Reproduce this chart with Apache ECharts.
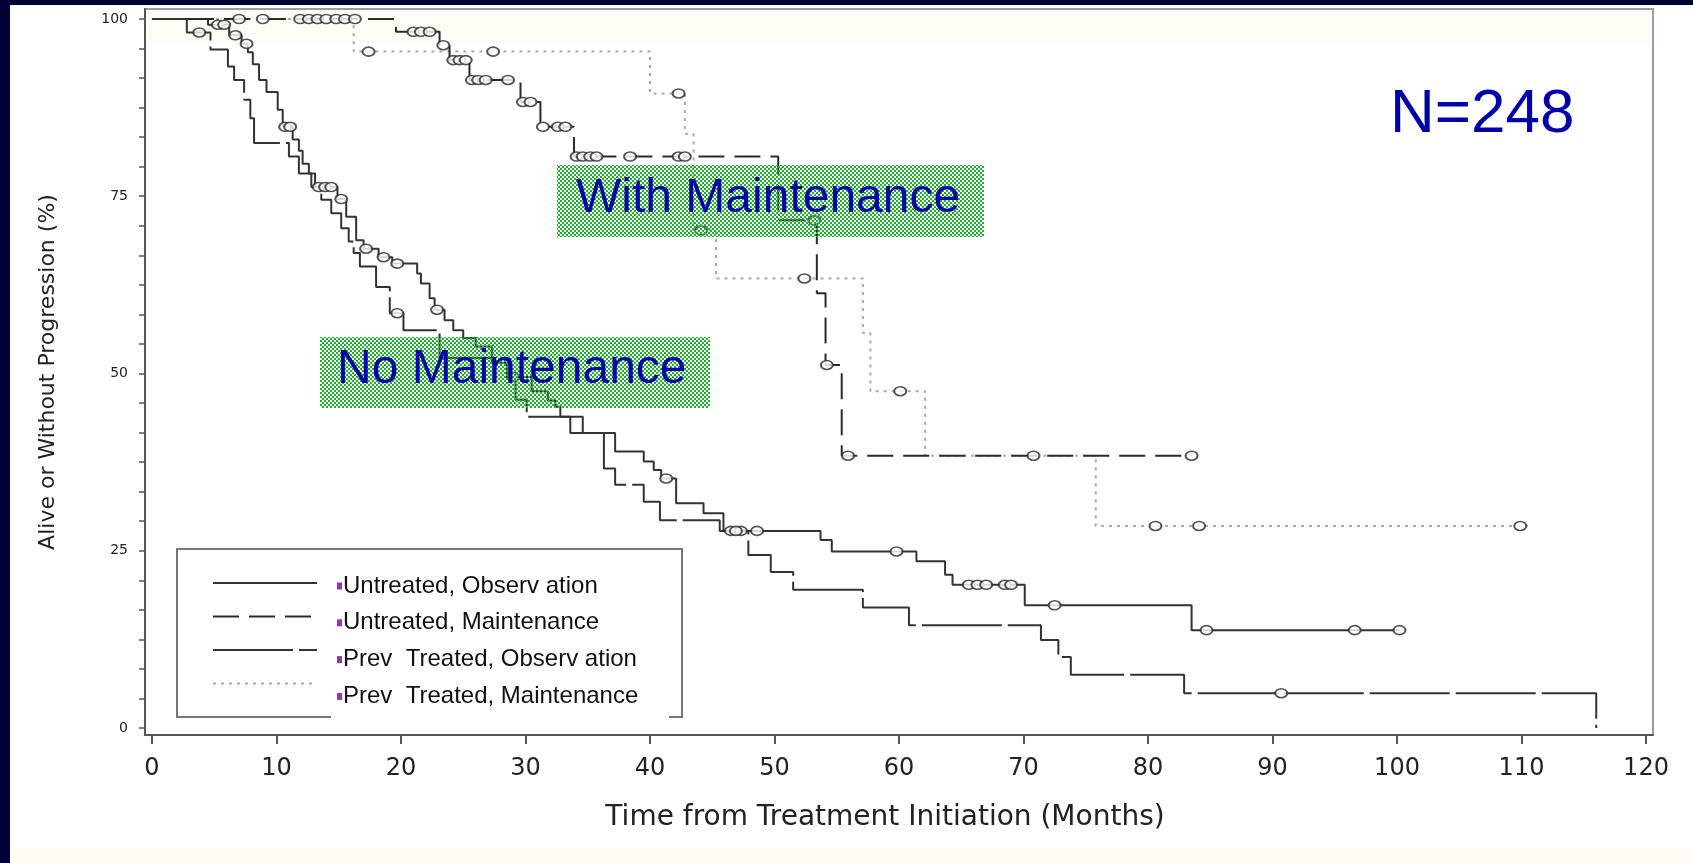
<!DOCTYPE html>
<html>
<head>
<meta charset="utf-8">
<script src="https://cdn.jsdelivr.net/npm/echarts@6/dist/echarts.min.js"></script>
<style>
  html, body { margin: 0; padding: 0; background: #ffffff; }
  #chart { width: 1693px; height: 863px; }
</style>
</head>
<body>
<div id="chart"></div>
<script>
// Kaplan-Meier steps: [month, % alive without progression] from each event onward
const untreatedObs = [[0,100],[4.5,99.2],[6.2,97.7],[7.2,96.5],[7.7,95.3],[8.1,93.6],[8.6,91.4],[9.2,89.7],
  [10.1,87.2],[10.5,84.8],[11.3,83.0],[11.8,81.4],[12.1,79.6],[12.6,78.2],[13.1,76.3],[14.9,74.6],[15.6,72.1],
  [16.4,68.8],[17.0,67.6],[18.2,66.4],[19.3,65.5],[21.3,64.1],[21.6,62.7],[22.3,60.6],[22.7,59.0],[23.5,57.5],
  [24.2,56.1],[25.0,55.0],[26.0,53.8],[27.3,51.5],[28.5,49.5],[30.5,47.5],[31.8,46.2],[32.4,45.3],[32.8,43.9],
  [34.6,41.6],[37.2,39.0],[39.5,37.6],[40.3,36.4],[40.9,35.2],[42.1,31.7],[44.3,30.3],[45.9,27.8],[53.7,26.5],
  [54.6,24.9],[61.4,23.5],[63.7,21.6],[64.3,20.2],[70.1,17.3],[83.5,13.8],[100.2,13.8]];
const untreatedObsCensored = [5.3,5.8,6.7,7.6,10.7,11.1,13.4,13.9,14.4,15.2,17.2,18.6,19.7,22.9,29.0,41.3,
  46.5,47.3,48.6,59.8,65.6,66.3,67.0,68.5,69.0,72.5,84.7,96.6,100.2];

const untreatedMaint = [[0,100],[19.6,98.2],[23.1,96.3],[23.9,94.2],[25.5,91.4],[29.6,88.3],[31.2,84.8],
  [33.9,80.6],[50.3,71.6],[53.4,61.3],[54.1,51.2],[55.4,38.4],[83.5,38.4]];
const untreatedMaintCensored = [7.0,8.9,11.9,12.6,13.3,14.0,14.8,15.5,16.3,21.0,21.6,22.3,23.4,24.2,24.7,25.2,
  25.7,26.2,26.8,28.6,29.8,30.4,31.4,32.6,33.2,34.1,34.6,35.2,35.7,38.4,42.3,42.8,53.2,54.2,55.9,70.8,83.5];

const prevTreatedObs = [[0,100],[2.8,98.1],[4.7,95.7],[6.1,93.3],[6.6,91.4],[7.4,88.6],[7.9,86.0],[8.2,82.5],
  [11.0,80.6],[11.8,78.2],[12.8,76.3],[13.6,74.5],[14.4,72.6],[15.2,70.5],[15.8,68.6],[16.2,67.0],[16.7,65.1],
  [18.0,62.2],[19.1,58.5],[20.2,56.1],[23.1,52.2],[28.7,49.4],[29.2,46.3],[30.1,43.9],[33.6,41.6],[36.3,36.6],
  [37.2,34.3],[39.5,31.9],[40.8,29.3],[45.6,27.8],[47.9,24.4],[49.7,22.0],[51.5,19.5],[57.1,17.0],[60.8,14.5],
  [71.4,12.4],[72.8,10.0],[73.8,7.5],[82.9,4.9],[116.0,0]];
const prevTreatedObsCensored = [3.8,19.7,46.9,90.7];

const prevTreatedMaint = [[0,100],[16.2,95.4],[40.0,89.5],[42.8,83.8],[43.5,70.2],[45.3,63.4],[57.1,55.7],
  [57.7,47.5],[62.1,38.4],[75.8,28.5],[110.5,28.5]];
const prevTreatedMaintCensored = [17.4,27.4,42.3,44.1,52.4,60.1,80.6,84.1,109.9];

const groupNames = ['Untreated, Observ ation', 'Untreated, Maintenance',
  'Prev  Treated, Observ ation', 'Prev  Treated, Maintenance'];

const xTickValues = [0,10,20,30,40,50,60,70,80,90,100,110,120];
const yLabelValues = [0,25,50,75,100];

// survival value of a step curve at time t
function survivalAt(steps, t) {
  let s = steps[0][1];
  for (const [time, value] of steps) { if (time <= t) s = value; else break; }
  return s;
}
function censorPoints(steps, times) {
  return times.map(t => [t, survivalAt(steps, t)]);
}

// y ticks: major every 25 with five minor ticks in between
const yTickValues = [];
for (let i = 0; i <= 24; i++) yTickValues.push(+(i * 25 / 6).toFixed(4));

// checkerboard fill for the annotation boxes (green cells, clear cells)
function checkerPattern() {
  const c = document.createElement('canvas');
  c.width = 4; c.height = 4;
  const g = c.getContext('2d');
  g.fillStyle = '#1cb02c';
  g.fillRect(0, 0, 2, 2);
  g.fillRect(2, 2, 2, 2);
  return c;
}
const checker = checkerPattern();

const curveColor = '#333333';
const censorStyle = { color: '#ffffff', borderColor: '#2a2a2a', borderWidth: 1.8 };

function stepSeries(name, data, lineStyle, z) {
  return { name, type: 'line', step: 'end', data, symbol: 'none', lineStyle, z,
           itemStyle: { color: lineStyle.color }, emphasis: { disabled: true }, silent: true };
}
function censorSeries(name, steps, times) {
  return { name, type: 'scatter', data: censorPoints(steps, times), symbol: 'circle',
           symbolSize: [12, 9], itemStyle: censorStyle, z: 4, silent: true };
}

const chart = echarts.init(document.getElementById('chart'));
chart.setOption({
  animation: false,
  backgroundColor: '#ffffff',
  grid: { left: 145, top: 9, width: 1508, height: 726, show: true,
          borderColor: '#9a9aae', borderWidth: 2, backgroundColor: 'transparent' },
  xAxis: {
    type: 'value', min: -0.56, max: 120.56,
    name: 'Time from Treatment Initiation (Months)', nameLocation: 'middle', nameGap: 69,
    nameTextStyle: { fontFamily: 'DejaVu Sans', fontSize: 28, color: '#222', padding: [0, 28, 0, 0] },
    axisLine: { show: true, onZero: false, lineStyle: { color: '#555', width: 2 } },
    axisTick: { show: true, customValues: xTickValues, length: 9, lineStyle: { color: '#555', width: 2 } },
    axisLabel: { customValues: xTickValues, fontFamily: 'DejaVu Sans', fontSize: 24, color: '#222', margin: 22 },
    splitLine: { show: false }
  },
  yAxis: {
    type: 'value', min: -0.99, max: 101.41,
    name: 'Alive or Without Progression (%)', nameLocation: 'middle', nameGap: 86,
    nameTextStyle: { fontFamily: 'DejaVu Sans', fontSize: 22, color: '#222' },
    axisLine: { show: true, onZero: false, lineStyle: { color: '#555', width: 2 } },
    axisTick: { show: true, customValues: yTickValues, length: 6, lineStyle: { color: '#555', width: 1.5 } },
    axisLabel: { customValues: yLabelValues, fontFamily: 'DejaVu Sans', fontSize: 14, color: '#222', margin: 17 },
    splitLine: { show: false }
  },
  legend: [
    // line samples
    {
      data: groupNames, orient: 'vertical', left: 207, top: 571,
      itemWidth: 104, itemHeight: 14, itemGap: 20.9, selectedMode: false, z: 10,
      itemStyle: { opacity: 0 }, formatter: () => '', textStyle: { fontSize: 1 }
    },
    // group names on their white panel
    {
      data: groupNames, orient: 'vertical', left: 326, top: 569,
      icon: 'rect', itemWidth: 1, itemHeight: 14, itemGap: 12.8, selectedMode: false, z: 10,
      itemStyle: { opacity: 0 },
      formatter: name => '{b|}{t|' + name + '}',
      textStyle: {
        rich: {
          b: { width: 5, height: 7, backgroundColor: '#9933aa' },
          t: { fontFamily: 'Liberation Sans', fontSize: 24, lineHeight: 26, color: '#111', padding: [0, 0, 0, 1] }
        }
      }
    }
  ],
  graphic: [
    // slide border and faint tint bands
    { type: 'rect', shape: { x: 150, y: 10, width: 1500, height: 33 }, style: { fill: '#fefef6' }, z: 0 },
    { type: 'rect', shape: { x: 0, y: 848, width: 1693, height: 15 }, style: { fill: '#fffdf6' }, z: 0 },
    { type: 'rect', shape: { x: 0, y: 0, width: 1693, height: 5 }, style: { fill: '#000035' }, z: 0 },
    { type: 'rect', shape: { x: 0, y: 0, width: 10, height: 863 }, style: { fill: '#000035' }, z: 0 },
    // legend frame and its text panel
    { type: 'rect', shape: { x: 177, y: 549, width: 505, height: 168 },
      style: { fill: null, stroke: '#777', lineWidth: 2 }, z: 5 },
    { type: 'rect', shape: { x: 331, y: 572, width: 338, height: 148 },
      style: { fill: '#ffffff' }, z: 6 },
    // annotations
    { type: 'rect', shape: { x: 557, y: 165, width: 427, height: 72 },
      style: { fill: { image: checker, repeat: 'repeat' } }, z: 7 },
    { type: 'text', x: 576, y: 199, z: 8,
      style: { text: 'With Maintenance', fontFamily: 'Liberation Sans', fontSize: 48, fill: '#0000aa',
               verticalAlign: 'middle' } },
    { type: 'rect', shape: { x: 320, y: 337, width: 390, height: 71 },
      style: { fill: { image: checker, repeat: 'repeat' } }, z: 7 },
    { type: 'text', x: 337, y: 370, z: 8,
      style: { text: 'No Maintenance', fontFamily: 'Liberation Sans', fontSize: 48, fill: '#0000aa',
               verticalAlign: 'middle' } },
    { type: 'text', x: 1390, y: 115, z: 8,
      style: { text: 'N=248', fontFamily: 'Liberation Sans', fontSize: 62, fill: '#0000aa',
               verticalAlign: 'middle' } }
  ],
  series: [
    stepSeries(groupNames[0], untreatedObs, { color: curveColor, width: 2, type: 'solid' }, 3),
    stepSeries(groupNames[1], untreatedMaint, { color: '#2a2a2a', width: 2, type: [26, 10] }, 3),
    stepSeries(groupNames[2], prevTreatedObs, { color: curveColor, width: 2, type: [80, 6] }, 3),
    stepSeries(groupNames[3], prevTreatedMaint, { color: '#aaaaaa', width: 2, type: [3, 5] }, 2),
    censorSeries('censored-uo', untreatedObs, untreatedObsCensored),
    censorSeries('censored-um', untreatedMaint, untreatedMaintCensored),
    censorSeries('censored-po', prevTreatedObs, prevTreatedObsCensored),
    censorSeries('censored-pm', prevTreatedMaint, prevTreatedMaintCensored)
  ]
});
</script>
</body>
</html>
